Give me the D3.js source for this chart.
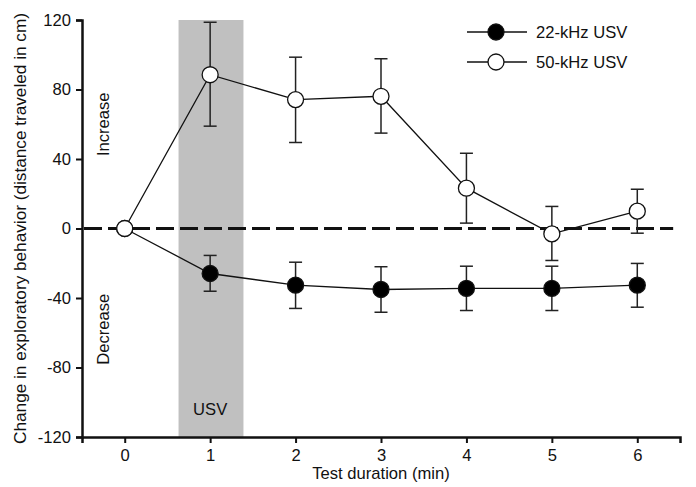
<!DOCTYPE html>
<html>
<head>
<meta charset="utf-8">
<script src="https://cdn.jsdelivr.net/npm/d3@7"></script>
<style>
  body { margin: 0; background: #fff; }
  text { font-family: "Liberation Sans", Arial, sans-serif; fill: #111; }
</style>
</head>
<body>
<svg id="chart" width="696" height="487"></svg>
<script>
// values
const minutes   = [0, 1, 2, 3, 4, 5, 6];
const usv50     = [0, 88.5, 74.2, 76.1, 23.2, -3.1, 10];
const usv50Hi   = [0, 118.7, 98.6, 97.7, 43.3, 12.7, 22.6];
const usv50Lo   = [0, 58.9, 49.5, 54.9, 3.1, -18.4, -2.7];
const usv22     = [0, -25.9, -32.6, -35.1, -34.5, -34.5, -32.6];
const usv22Hi   = [0, -15.5, -19.4, -22, -21.7, -21.7, -20.1];
const usv22Lo   = [0, -36.1, -46, -48.2, -47.2, -47.2, -45.3];
const yTicks    = [-120, -80, -40, 0, 40, 80, 120];
const usvBand   = [0.63, 1.39];

const svg = d3.select("#chart");
const m = {left: 82, right: 16, top: 20, bottom: 50};
const W = 696, H = 487;
const fs = 16.6;

const x = d3.scaleLinear().domain([-0.5, 6.5]).range([m.left, W - m.right]);
const y = d3.scaleLinear().domain([-120, 120]).range([H - m.bottom, m.top]);

// shaded USV period
svg.append("rect")
  .attr("x", x(usvBand[0])).attr("width", x(usvBand[1]) - x(usvBand[0]))
  .attr("y", y(120)).attr("height", y(-120) - y(120))
  .attr("fill", "#c0c0c0");

svg.append("text").attr("x", x(1)).attr("y", 415)
  .attr("text-anchor", "middle").attr("font-size", fs).text("USV");

// zero line
svg.append("line")
  .attr("x1", x(-0.5) + 2).attr("x2", x(6.42))
  .attr("y1", y(0)).attr("y2", y(0))
  .attr("stroke", "#111").attr("stroke-width", 3)
  .attr("stroke-dasharray", "18,6");

// axes
const fmt = d => String(d);
const xAxis = svg.append("g").attr("transform", `translate(0,${y(-120)})`)
  .call(d3.axisBottom(x).tickValues(minutes).tickSize(6).tickPadding(6).tickFormat(fmt));
const yAxis = svg.append("g").attr("transform", `translate(${x(-0.5)},0)`)
  .call(d3.axisLeft(y).tickValues(yTicks).tickSize(6).tickPadding(5).tickFormat(fmt));
[xAxis, yAxis].forEach(g => {
  g.select(".domain").attr("stroke", "#111").attr("stroke-width", 2.5);
  g.selectAll(".tick line").attr("stroke", "#111").attr("stroke-width", 2);
  g.selectAll(".tick text").attr("font-size", fs).attr("font-family", "Liberation Sans, Arial, sans-serif").attr("fill", "#111");
});

svg.append("text").attr("x", x(3)).attr("y", 479)
  .attr("text-anchor", "middle").attr("font-size", fs).text("Test duration (min)");
svg.append("text")
  .attr("transform", `translate(26,${(y(120) + y(-120)) / 2}) rotate(-90)`)
  .attr("text-anchor", "middle").attr("font-size", 17.2)
  .text("Change in exploratory behavior (distance traveled in cm)");

svg.append("text").attr("transform", `translate(109,${y(60)}) rotate(-90)`)
  .attr("text-anchor", "middle").attr("font-size", fs).text("Increase");
svg.append("text").attr("transform", `translate(109,${y(-58)}) rotate(-90)`)
  .attr("text-anchor", "middle").attr("font-size", fs).text("Decrease");

const line = d3.line().x((d, i) => x(minutes[i])).y(d => y(d));

function series(vals, hi, lo, fill) {
  const g = svg.append("g");
  g.append("path").attr("d", line(vals)).attr("fill", "none")
    .attr("stroke", "#111").attr("stroke-width", 1.3);
  const pts = minutes.map((t, i) => ({t, v: vals[i], hi: hi[i], lo: lo[i]}));
  const eb = g.selectAll(".eb").data(pts.filter(d => d.t > 0)).join("g").attr("stroke", "#222").attr("stroke-width", 1.5);
  eb.append("line").attr("x1", d => x(d.t)).attr("x2", d => x(d.t)).attr("y1", d => y(d.hi)).attr("y2", d => y(d.lo));
  eb.append("line").attr("x1", d => x(d.t) - 6.5).attr("x2", d => x(d.t) + 6.5).attr("y1", d => y(d.hi)).attr("y2", d => y(d.hi));
  eb.append("line").attr("x1", d => x(d.t) - 6.5).attr("x2", d => x(d.t) + 6.5).attr("y1", d => y(d.lo)).attr("y2", d => y(d.lo));
  g.selectAll("circle").data(pts).join("circle")
    .attr("cx", d => x(d.t)).attr("cy", d => y(d.v)).attr("r", 8)
    .attr("fill", fill).attr("stroke", "#111").attr("stroke-width", 1.3);
}
series(usv22, usv22Hi, usv22Lo, "#000");
series(usv50, usv50Hi, usv50Lo, "#fff");

// legend
const legend = [{label: "22-kHz USV", fill: "#000", y: 32}, {label: "50-kHz USV", fill: "#fff", y: 62}];
const lg = svg.append("g").selectAll("g").data(legend).join("g");
lg.append("line").attr("x1", 467).attr("x2", 527).attr("y1", d => d.y).attr("y2", d => d.y)
  .attr("stroke", "#111").attr("stroke-width", 1.3);
lg.append("circle").attr("cx", 496).attr("cy", d => d.y).attr("r", 8)
  .attr("fill", d => d.fill).attr("stroke", "#111").attr("stroke-width", 1.3);
lg.append("text").attr("x", 536).attr("y", d => d.y + 6).attr("font-size", fs).text(d => d.label);
</script>
</body>
</html>
